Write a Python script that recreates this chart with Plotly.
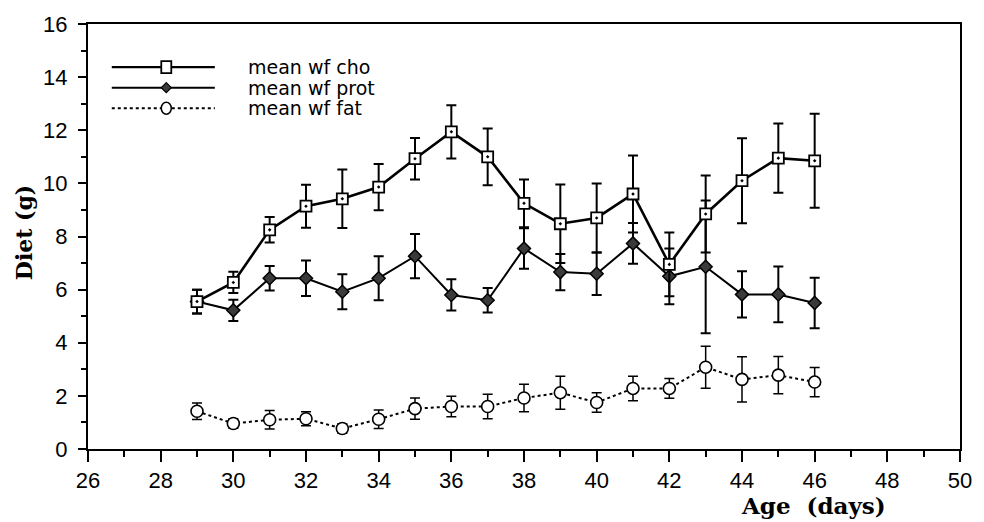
import plotly.graph_objects as go

# ---------------- data ----------------
age = list(range(29, 47))
cho = [5.55, 6.27, 8.25, 9.14, 9.42, 9.86, 10.93, 11.94, 11.0, 9.25, 8.48, 8.7, 9.6, 6.95, 8.85, 10.1, 10.95, 10.85]
cho_err = [0.45, 0.4, 0.48, 0.81, 1.1, 0.87, 0.78, 1.0, 1.07, 0.9, 1.48, 1.3, 1.45, 1.2, 1.45, 1.6, 1.3, 1.77]
prot = [5.55, 5.22, 6.43, 6.43, 5.92, 6.43, 7.26, 5.8, 5.6, 7.55, 6.66, 6.6, 7.74, 6.5, 6.86, 5.82, 5.82, 5.5]
prot_err = [0.45, 0.4, 0.46, 0.67, 0.66, 0.83, 0.83, 0.59, 0.46, 0.76, 0.68, 0.8, 0.77, 1.05, 2.5, 0.87, 1.05, 0.95]
fat = [1.42, 0.96, 1.1, 1.14, 0.77, 1.12, 1.52, 1.6, 1.6, 1.92, 2.12, 1.75, 2.28, 2.28, 3.08, 2.62, 2.78, 2.52]
fat_err = [0.31, 0.18, 0.35, 0.26, 0.18, 0.35, 0.4, 0.39, 0.46, 0.52, 0.62, 0.37, 0.46, 0.37, 0.79, 0.85, 0.7, 0.55]

series_names = ["mean wf cho", "mean wf prot", "mean wf fat"]
x_ticks = list(range(26, 51, 2))
y_ticks = list(range(0, 17, 2))

# ---------------- layout constants ----------------
W, H = 984, 522
ML, MR, MT, MB = 88, 16, 15, 73
PW, PH = W - ML - MR, H - MT - MB


def px(xp):
    return (xp - ML) / PW


def py(yp):
    return 1 - (yp - MT) / PH


fig = go.Figure()

err_common = dict(type="data", color="black", thickness=2, width=5)

fig.add_trace(go.Scatter(
    x=age, y=fat, name=series_names[2], mode="lines+markers",
    line=dict(color="black", width=2, dash="dot"),
    marker=dict(symbol="circle", size=12, color="white", line=dict(color="black", width=1.6)),
    error_y=dict(array=fat_err, **{**err_common, "thickness": 1.5}),
))
fig.add_trace(go.Scatter(
    x=age, y=prot, name=series_names[1], mode="lines+markers",
    line=dict(color="black", width=2),
    marker=dict(symbol="diamond", size=10, color="#3a3a3a", line=dict(color="black", width=1.5)),
    error_y=dict(array=prot_err, **err_common),
))
fig.add_trace(go.Scatter(
    x=age, y=cho, name=series_names[0], mode="lines+markers",
    line=dict(color="black", width=2.6),
    marker=dict(symbol="square-dot", size=11, color="white", line=dict(color="black", width=1.8)),
    error_y=dict(array=cho_err, **err_common),
))

# ---------------- custom legend ----------------
shapes = []
annotations = []
leg_rows = [59, 80, 101]
leg_x0, leg_x1, leg_mx, leg_tx = 112, 216, 167, 247
styles = [dict(width=2.2, dash="solid"), dict(width=2, dash="solid"), dict(width=2, dash="dot")]
for i, (name, ry) in enumerate(zip(series_names, leg_rows)):
    shapes.append(dict(type="line", xref="paper", yref="paper",
                       x0=px(leg_x0), x1=px(leg_x1), y0=py(ry), y1=py(ry),
                       line=dict(color="black", **styles[i])))
    if i == 0:
        shapes.append(dict(type="rect", xref="paper", yref="paper",
                           xsizemode="pixel", ysizemode="pixel",
                           xanchor=px(leg_mx), yanchor=py(ry),
                           x0=-5, x1=5, y0=-6, y1=6,
                           fillcolor="white", line=dict(color="black", width=1.8)))
    elif i == 1:
        shapes.append(dict(type="path", xref="paper", yref="paper",
                           xsizemode="pixel", ysizemode="pixel",
                           xanchor=px(leg_mx), yanchor=py(ry),
                           path="M -5 0 L 0 5 L 5 0 L 0 -5 Z",
                           fillcolor="#3a3a3a", line=dict(color="black", width=1.2)))
    else:
        shapes.append(dict(type="circle", xref="paper", yref="paper",
                           xsizemode="pixel", ysizemode="pixel",
                           xanchor=px(leg_mx), yanchor=py(ry),
                           x0=-5, x1=5, y0=-6, y1=6,
                           fillcolor="white", line=dict(color="black", width=1.5)))
    annotations.append(dict(text=name, xref="paper", yref="paper",
                            x=px(leg_tx), y=py(ry), xanchor="left", yanchor="middle",
                            showarrow=False,
                            font=dict(family="DejaVu Sans", size=19, color="black")))

# axis titles
annotations.append(dict(text="Age\u00a0\u00a0(days)", xref="paper", yref="paper",
                        x=px(820), y=py(507), xanchor="center", yanchor="middle",
                        showarrow=False,
                        font=dict(family="DejaVu Serif", size=23, color="black", weight="bold")))
annotations.append(dict(text="Diet (g)", xref="paper", yref="paper",
                        x=px(23), y=py(228), xanchor="center", yanchor="middle",
                        textangle=-90, showarrow=False,
                        font=dict(family="DejaVu Serif", size=22, color="black", weight="bold")))

axis_common = dict(
    showgrid=False, zeroline=False, showline=True, linecolor="black", linewidth=2,
    mirror=True, ticks="outside", tickcolor="black", tickwidth=2,
    tickfont=dict(family="Liberation Sans", size=22, color="black"),
)

fig.update_layout(
    width=W, height=H,
    margin=dict(l=ML, r=MR, t=MT, b=MB),
    paper_bgcolor="white", plot_bgcolor="white",
    showlegend=False,
    shapes=shapes, annotations=annotations,
    xaxis=dict(range=[26, 50], tickvals=x_ticks, ticklen=11,
               minor=dict(dtick=1, ticks="outside", ticklen=6, tickcolor="black", tickwidth=2),
               ticklabelstandoff=0, **axis_common),
    yaxis=dict(range=[0, 16], tickvals=y_ticks, ticklen=8,
               minor=dict(dtick=1, ticks="outside", ticklen=5, tickcolor="black", tickwidth=2),
               ticklabelstandoff=6, **axis_common),
)

fig.write_html("out.html")
